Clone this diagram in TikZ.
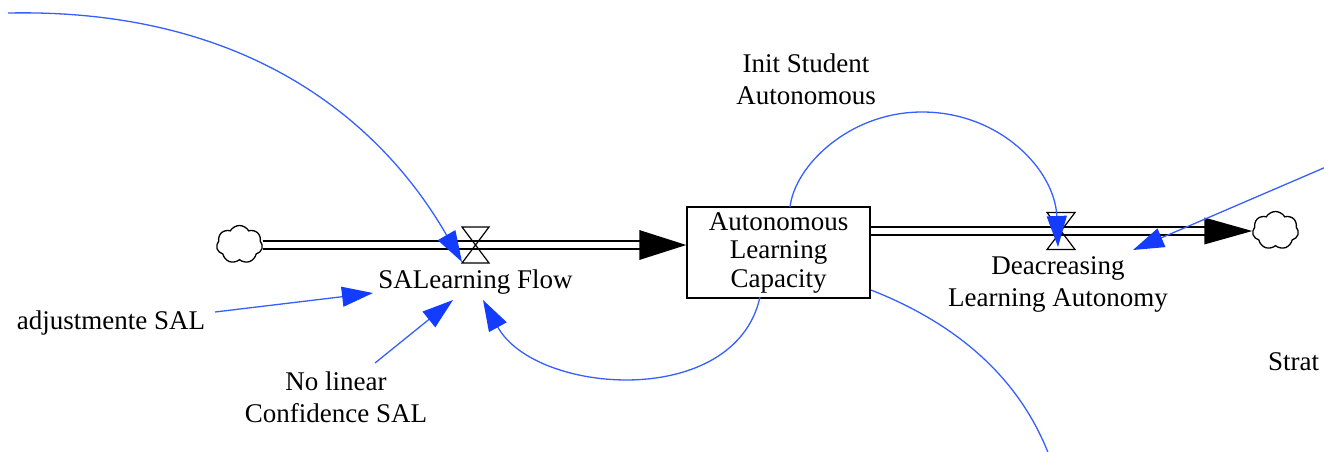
\documentclass[tikz,border=0pt]{standalone}
\usepackage{fontspec}
\setmainfont{Liberation Serif}
\usetikzlibrary{arrows.meta,shapes.symbols,calc}
\definecolor{lnk}{RGB}{55,95,255}
\definecolor{lnkhead}{RGB}{20,60,255}
\begin{document}
\begin{tikzpicture}[x=1pt,y=-1pt,
  lbl/.style={font=\fontsize{27}{32}\selectfont, align=center, inner sep=0pt},
  link/.style={draw=lnk, line width=1.3pt, -{Triangle[length=31pt,width=20pt,color=lnkhead]}},
  linkplain/.style={draw=lnk, line width=1.3pt},
  pipe/.style={draw=black, line width=1.5pt, double=white, double distance=6.5pt},
  cloudnode/.style={cloud, cloud puffs=7, cloud puff arc=120, aspect=1.2, draw, line width=1.3pt,
    minimum width=46pt, minimum height=38pt, inner sep=0pt},
  valve/.style={draw=black, line width=1.2pt},
  stock/.style={draw=black, line width=1.5pt, minimum width=183pt, minimum height=91pt,
    inner sep=0pt, align=center, font=\fontsize{27}{28.5}\selectfont}
]
\useasboundingbox (0,0) rectangle (1324,451);
\clip (0,0) rectangle (1324,451);

% clouds and stock
\node[cloudnode] (cL) at (239.5,244.5) {};
\node[cloudnode] (cR) at (1275.5,230.5) {};
\node[stock] (box) at (778.5,252.5) {Autonomous\\Learning\\Capacity};

% labels
\node[lbl] (flow1) at (475.5,282) {SALearning Flow};
\node[lbl] (flow2) at (1058,284) {Deacreasing\\Learning Autonomy};
\node[lbl] (init) at (806,79) {Init Student\\Autonomous};
\node[lbl] (adj) at (111,323) {adjustmente SAL};
\node[lbl] (nolin) at (336,397.5) {No linear\\Confidence SAL};
\node[lbl, anchor=west] (strat) at (1268,362) {Strat};

% valve centres and pipe ends
\coordinate (v1) at (475.5,245);
\coordinate (v2) at (1061,231);
\coordinate (inL) at (box.west |- v1);
\coordinate (outR) at (box.east |- v2);
\coordinate (tipR) at (cR.west |- v2);

% left pipe
\draw[pipe] (cL.east |- v1) -- ([xshift=-44pt]inL);
\fill[black] (inL) -- ([xshift=-47pt,yshift=15pt]inL) -- ([xshift=-47pt,yshift=-15pt]inL) -- cycle;
% right pipe
\draw[pipe] (outR) -- ([xshift=-45pt]tipR);
\fill[black] (tipR) -- ([xshift=-48pt,yshift=13.5pt]tipR) -- ([xshift=-48pt,yshift=-13.5pt]tipR) -- cycle;

% valves
\draw[valve] (v1) ++(-13.5,-18) -- ++(27,0) -- ++(-27,36) -- ++(27,0) -- cycle;
\draw[valve] (v2) ++(-14,-18.5) -- ++(28,0) -- ++(-28,37) -- ++(28,0) -- cycle;

% link end points
\coordinate (topL) at (8,13);
\coordinate (v1in) at (462,262);
\coordinate (v2in) at (1058,247);
\coordinate (boxTop) at (790,207);
\coordinate (arcTop) at (922,112);
\coordinate (boxBot) at (760,297);
\coordinate (boxBR) at (871,290);
\coordinate (offB) at (1049,455);
\coordinate (flowInA) at (373,293);
\coordinate (flowInB) at (453,300);
\coordinate (flowInC) at (483,300);
\coordinate (adjOut) at (215,312);
\coordinate (nolOut) at (375,363);
\coordinate (topR) at (1326,167);
\coordinate (flow2In) at (1133,250);

% links
\draw[link] (topL) .. controls (255,8) and (385,128) .. (v1in);
\draw[link] (boxTop) .. controls (795,165) and (850,112) .. (arcTop)
  .. controls (1000,112) and (1055,170) .. (v2in);
\draw[link] (boxBot) .. controls (735,410) and (535,395) .. (flowInC);
\draw[link] (adjOut) -- (flowInA);
\draw[link] (nolOut) -- (flowInB);
\draw[link] (topR) -- (flow2In);
\draw[linkplain] (boxBR) .. controls (960,325) and (1020,380) .. (offB);
\end{tikzpicture}
\end{document}
